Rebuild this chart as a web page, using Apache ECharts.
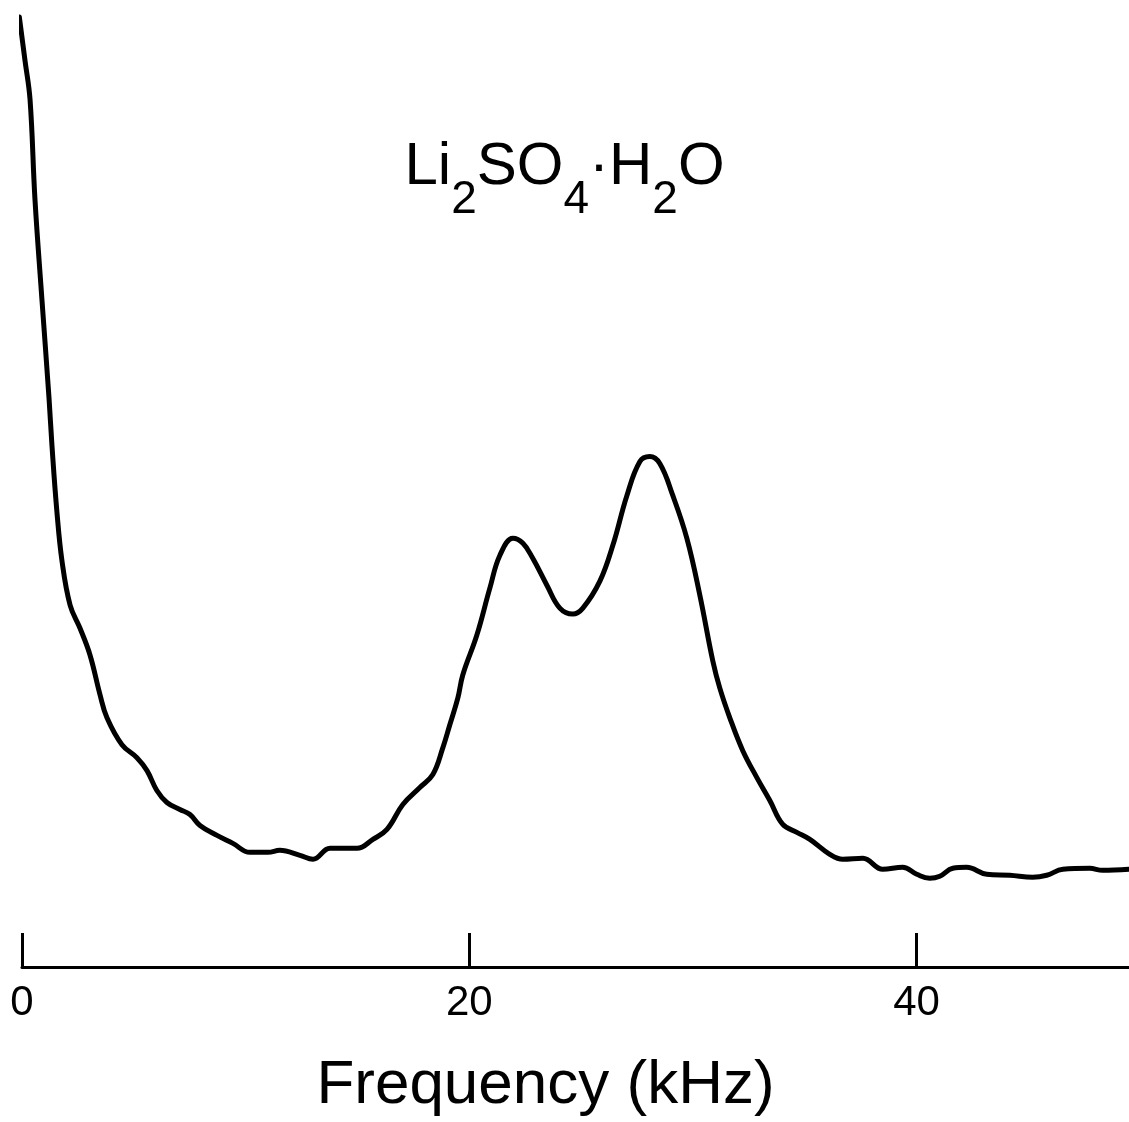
<!DOCTYPE html>
<html>
<head>
<meta charset="utf-8">
<title>Li2SO4·H2O spectrum</title>
<script src="https://cdn.jsdelivr.net/npm/echarts@6/dist/echarts.min.js"></script>
<style>
  html, body { margin: 0; padding: 0; background: #fff; }
  #chart { width: 1129px; height: 1122px; }
</style>
</head>
<body>
<div id="chart"></div>
<script>
// Frequency (kHz) of each sample along the trace
const freq = [
  -0.12, 0.13, 0.36, 0.58, 0.89, 1.21, 1.34, 1.56, 1.79, 2.15,
  2.59, 3.04, 3.49, 3.80, 4.47, 5.14, 5.59, 6.03, 6.48, 7.06,
  7.51, 7.96, 8.72, 9.43, 10.19, 11.00, 11.53, 12.43, 13.01, 13.77,
  14.98, 15.69, 16.32, 17.03, 17.79, 18.37, 18.82, 19.13, 19.49, 19.71,
  20.34, 20.92, 21.37, 21.95, 22.40, 22.84, 23.47, 24.05, 24.63, 25.08,
  25.84, 26.42, 27.05, 27.63, 28.07, 28.52, 29.10, 29.73, 30.31, 30.89,
  31.20, 31.65, 32.23, 32.86, 33.44, 34.02, 34.65, 35.23, 36.12, 36.70,
  37.60, 38.49, 39.38, 40.01, 40.59, 41.04, 41.62, 42.24, 43.14, 44.17,
  45.19, 45.82, 46.54, 47.74, 48.32, 49.49
];
// Signal intensity (arbitrary units) at each frequency
const intensity = [
  953, 910, 870, 770, 670, 570, 523, 457, 407, 363,
  340, 313, 273, 250, 223, 210, 197, 177, 165, 158,
  153, 142, 132, 124, 115, 115, 117, 112, 108, 119,
  119, 128, 138, 163, 180, 193, 220, 243, 270, 293,
  333, 380, 413, 430, 425, 410, 383, 360, 354, 360,
  387, 423, 473, 507, 512, 505, 473, 430, 373, 307,
  280, 250, 217, 190, 167, 143, 135, 128, 113, 108,
  109, 98, 100, 93, 89, 91, 99, 100, 93, 92,
  90, 92, 98, 99, 97, 98
];
const freqTicks = [0, 20, 40];

const chart = echarts.init(document.getElementById('chart'), null, { renderer: 'canvas' });
const font = '"Liberation Sans", Arial, Helvetica, sans-serif';

chart.setOption({
  animation: false,
  backgroundColor: '#ffffff',
  title: {
    left: 'center',
    top: 132,
    text: '{m|Li}{s|2}{m|SO}{s|4}{m|·H}{s|2}{m|O}',
    textStyle: {
      fontWeight: 'normal',
      rich: {
        m: { fontFamily: font, fontSize: 60, fontWeight: 'normal', lineHeight: 60, color: '#000', verticalAlign: 'top' },
        s: { fontFamily: font, fontSize: 46, fontWeight: 'normal', lineHeight: 46, color: '#000', verticalAlign: 'top', padding: [40, 0, 0, 0] }
      }
    }
  },
  grid: { left: 22, right: 0, top: 0, bottom: 152, containLabel: false },
  xAxis: {
    type: 'value',
    min: 0,
    max: 49.5,
    interval: 20,
    name: 'Frequency (kHz)',
    nameLocation: 'middle',
    nameGap: 88,
    nameTextStyle: { fontFamily: font, fontSize: 62, color: '#000', padding: [0, 60, 0, 0] },
    axisLine: { show: true, lineStyle: { color: '#000', width: 3 } },
    axisTick: {
      show: true, inside: true, length: 34,
      customValues: freqTicks,
      lineStyle: { color: '#000', width: 3 }
    },
    axisLabel: {
      fontFamily: font, fontSize: 42, color: '#000', margin: 15,
      customValues: freqTicks,
      formatter: v => String(v)
    },
    splitLine: { show: false }
  },
  yAxis: { type: 'value', min: 0, max: 970, show: false },
  series: [{
    type: 'line',
    data: freq.map((f, i) => [f, intensity[i]]),
    showSymbol: false,
    smooth: 0.4,
    clip: false,
    lineStyle: { color: '#000', width: 5, cap: 'round', join: 'round' }
  }]
});
</script>
</body>
</html>
